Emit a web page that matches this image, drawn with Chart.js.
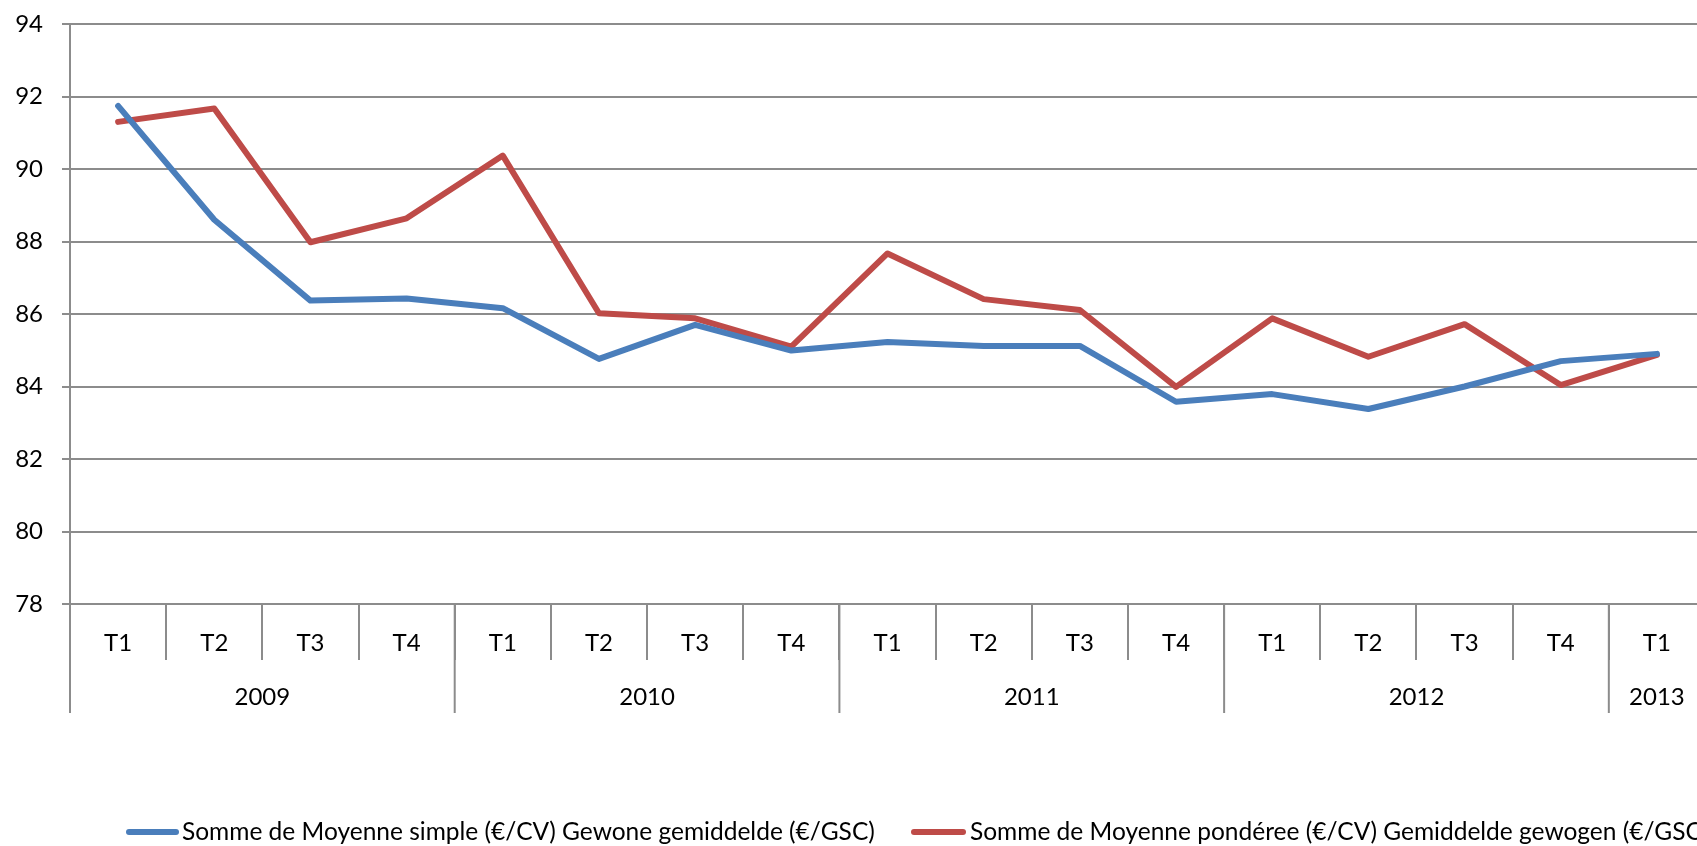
<!DOCTYPE html>
<html>
<head>
<meta charset="utf-8">
<script src="https://cdn.jsdelivr.net/npm/chart.js@4.4.0/dist/chart.umd.min.js"></script>
<style>
  html, body { margin:0; padding:0; background:#fff; overflow:hidden; }
  #wrap { position:relative; width:1710px; height:846px; }
  .legend { position:absolute; top:0; left:0; font-family:Lato, sans-serif; font-size:24.5px; color:#000; white-space:nowrap; }
  .legend .item { position:absolute; top:816px; line-height:30px; }
  .legend .swatch { position:absolute; top:13px; height:6px; border-radius:3px; }
</style>
</head>
<body>
<div id="wrap">
  <canvas id="c"></canvas>
  <div class="legend" id="legend"></div>
</div>
<script>
/* ── Données ── */
const QUARTERS = ['T1','T2','T3','T4','T1','T2','T3','T4','T1','T2','T3','T4','T1','T2','T3','T4','T1'];
const YEARS     = ['2009','2010','2011','2012','2013'];
const YEAR_SPAN = [4,4,4,4,1];
const SIMPLE    = [91.74,88.60,86.37,86.43,86.16,84.76,85.70,84.99,85.23,85.12,85.12,83.58,83.79,83.38,84.00,84.70,84.90];
const PONDEREE  = [91.30,91.67,87.98,88.64,90.37,86.02,85.88,85.10,87.67,86.41,86.11,83.99,85.88,84.82,85.72,84.04,84.87];
const SERIES    = [
  'Somme de Moyenne simple (€/CV) Gewone gemiddelde (€/GSC)',
  'Somme de Moyenne pondéree (€/CV) Gemiddelde gewogen (€/GSC)'
];
const Y_MIN = 78, Y_MAX = 94, Y_STEP = 2;

const BLUE = '#4a7ebb', RED = '#be4b48', GRID = '#8c8c8c';
const FONT = { family:'Lato', size:24 };

/* ── Ligne des années sous l'axe ── */
const yearAxis = {
  id:'yearAxis',
  afterDraw(chart) {
    const { ctx, chartArea, scales:{ x } } = chart;
    const half = (x.getPixelForValue(1) - x.getPixelForValue(0)) / 2;
    const top = chartArea.bottom, bottom = x.bottom;
    ctx.save();
    ctx.strokeStyle = GRID; ctx.lineWidth = 2;
    ctx.fillStyle = '#000';
    ctx.font = `${FONT.size}px ${FONT.family}`;
    ctx.textAlign = 'center'; ctx.textBaseline = 'middle';
    let start = 0;
    YEARS.forEach((yr, i) => {
      const n  = YEAR_SPAN[i];
      const x0 = x.getPixelForValue(start) - half;
      const x1 = x.getPixelForValue(start + n - 1) + half;
      ctx.beginPath(); ctx.moveTo(x0, top); ctx.lineTo(x0, bottom); ctx.stroke();
      ctx.fillText(yr, (x0 + x1) / 2, bottom - 16);
      start += n;
    });
    ctx.restore();
  }
};

new Chart(document.getElementById('c'), {
  type:'line',
  data:{
    labels: QUARTERS,
    datasets:[
      { label:SERIES[0], data:SIMPLE,   borderColor:BLUE, backgroundColor:BLUE, borderWidth:6, pointRadius:0, tension:0, borderJoinStyle:'round', borderCapStyle:'round' },
      { label:SERIES[1], data:PONDEREE, borderColor:RED,  backgroundColor:RED,  borderWidth:6, pointRadius:0, tension:0, borderJoinStyle:'round', borderCapStyle:'round' }
    ]
  },
  options:{
    responsive:true, maintainAspectRatio:false, animation:false,
    layout:{ padding:{ top:24, right:5, bottom:133, left:0 } },
    plugins:{ legend:{ display:false }, tooltip:{ enabled:false } },
    scales:{
      x:{
        offset:true,
        grid:{ display:true, drawOnChartArea:false, offset:true, tickLength:56, color:GRID, lineWidth:2 },
        border:{ display:true, color:GRID, width:2 },
        ticks:{ color:'#000', font:FONT, padding:-31, maxRotation:0, autoSkip:false },
        afterFit(s){ s.height = 109; s.paddingLeft = 0; s.paddingRight = 0; }
      },
      y:{
        min:Y_MIN, max:Y_MAX,
        grid:{ color:GRID, lineWidth:2, tickLength:8 },
        border:{ display:true, color:GRID, width:2 },
        ticks:{ stepSize:Y_STEP, color:'#000', font:FONT, padding:19 },
        afterFit(s){ s.width = 70; s.paddingTop = 0; s.paddingBottom = 0; }
      }
    }
  },
  plugins:[yearAxis]
});

/* ── Légende ── */
const LEG_POS = [ { line:126, w:53, text:182 }, { line:911, w:55, text:970 } ];
document.getElementById('legend').innerHTML = SERIES.map((s,i) => `
  <div class="item" style="left:${LEG_POS[i].line}px">
    <span class="swatch" style="left:0;width:${LEG_POS[i].w}px;background:${[BLUE,RED][i]}"></span>
    <span style="margin-left:${LEG_POS[i].text - LEG_POS[i].line}px">${s}</span>
  </div>`).join('');
</script>
</body>
</html>
